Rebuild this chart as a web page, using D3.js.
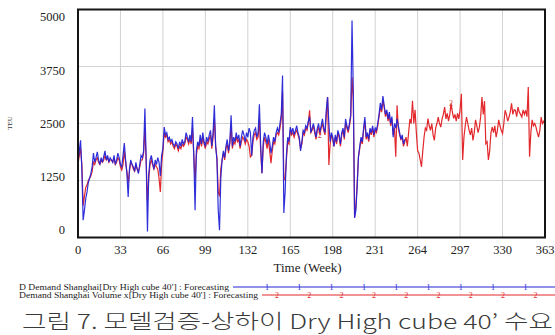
<!DOCTYPE html>
<html><head><meta charset="utf-8">
<script src="https://cdn.jsdelivr.net/npm/d3@7/dist/d3.min.js"></script>
<style>html,body{margin:0;padding:0;background:#fff;}svg{display:block;}</style>
</head><body>
<svg id="c" width="555" height="335"></svg>
<script>
// ---- data ----
const xTicks = [0, 33, 66, 99, 132, 165, 198, 231, 264, 297, 330, 363];
const yTicks = [0, 1250, 2500, 3750, 5000];
const xTitle = "Time (Week)";
const yTitle = "TEU";
const legendLabels = [
  "D Demand Shanghai[Dry High cube 40'] : Forecasting",
  "Demand Shanghai Volume x[Dry High cube 40'] : Forecasting"
];
const caption = "그림 7. 모델검증-상하이 Dry High cube 40’ 수요";

// blue: D Demand Shanghai (weeks 0..254)
const blueValues = [
1650,1900,2130,1500,380,600,850,1000,1200,1300,
1400,1550,1850,1650,1750,1880,1700,1600,1750,1650,
1780,1900,1700,1800,1650,1750,1700,1650,1800,1600,
1700,1850,1750,1600,1550,1800,2070,1700,1400,890,
1500,1700,1600,1550,1450,1650,1500,1400,1600,1800,
1750,1900,2830,1700,130,1400,1700,1800,1650,1500,
1700,1600,1750,1650,1350,1800,1950,2420,2250,2300,
2150,2200,2100,2150,2050,2000,2100,2050,1950,2100,
2000,2150,2050,2100,2300,2200,2100,2250,2100,2640,
1800,600,1900,2100,2000,2250,2050,2300,2100,2000,
2200,2100,2250,2350,2000,2300,2900,2000,1700,600,
160,1300,1700,1900,1750,2000,2150,1900,2100,2680,
2000,2200,2100,2300,2150,2250,2000,2200,2350,2250,
2100,2300,2200,2400,2300,1800,2200,2350,2400,2200,
2300,2920,2000,1410,2100,2300,2200,2050,2250,2100,
1850,2000,2200,2100,2300,2400,2300,2500,2700,3550,
540,1000,1800,2200,2100,2420,2300,2400,2250,2350,
2450,2300,2200,1900,2100,2350,2300,2450,2400,2550,
2650,2300,2400,2500,2350,2200,2400,2500,2300,2450,
2600,2400,2300,2800,3080,2500,2100,2300,2200,2000,
2250,2100,2350,2250,2050,2300,2400,2200,2600,2450,
2350,2500,2700,4760,3200,430,600,1100,1770,2000,
2200,2100,2400,2640,2200,2300,2150,2400,2300,2450,
2250,2400,2350,2500,2700,2950,2800,3100,2900,2700,
2800,2600,2750,2500,2650,2200,2500,2400,2600,2450,
2300,2150,2250,2050,2150
];
// red: Demand Shanghai Volume x (weeks 0..363)
const redValues = [
1600,1800,1950,1600,700,900,1100,1150,1250,1300,
1350,1450,1650,1600,1700,1750,1650,1600,1700,1650,
1700,1800,1700,1750,1650,1700,1700,1650,1750,1600,
1650,1750,1700,1550,1480,1600,1900,1650,1450,1200,
1450,1650,1600,1500,1450,1600,1500,1450,1550,1700,
1700,1850,2400,1650,800,1300,1600,1700,1600,1500,
1600,1550,1500,1300,1000,1600,1900,2300,2200,2250,
2100,2150,2050,2100,2000,1950,2050,2000,1900,2000,
1950,2050,2000,2050,2200,2150,2050,2150,2050,2400,
1800,1260,1800,2000,1950,2150,2000,2200,2050,1950,
2100,2050,2150,2250,1950,2200,2600,2000,1750,1000,
900,1500,1700,1850,1700,1950,2050,1850,2050,2450,
1950,2100,2050,2200,2100,2150,1950,2100,2200,2150,
2050,2150,2100,2000,1770,1800,2100,2250,2300,2150,
2200,2600,1900,1410,2000,2200,2100,1950,2150,1900,
1630,1900,2100,2050,2250,2300,2250,2400,2600,3200,
1260,1300,1700,2100,2050,2350,2250,2300,2200,2300,
2350,2250,2150,1950,2050,2300,2250,2400,2350,2500,
2790,2300,2350,2450,2300,2150,2350,2400,2250,2400,
2500,2350,2250,2700,3080,1590,2050,2250,2150,2000,
2200,2050,2300,2200,2000,2250,2350,2150,2500,2400,
2300,2450,2650,3520,3000,450,700,1200,1770,1950,
2150,2050,2350,2550,2150,2250,2100,2350,2250,2400,
2200,2350,2300,2450,2650,2850,2750,3000,2850,2650,
2750,2550,2700,2450,2600,2250,2400,1770,2900,2400,
2250,2150,2200,2000,2100,2200,2000,2300,2600,2500,
3000,2500,2800,2300,1900,1850,1700,1550,1900,2200,
2400,2350,2610,2450,2350,2500,2250,2130,2400,2500,
2640,2500,2420,2600,2700,2860,2600,2720,2550,2700,
2940,2750,2610,2700,2550,2720,2600,2800,3150,1700,
2200,2450,2640,2500,2350,2250,2400,2130,2300,2580,
2450,2300,2420,2650,3080,2700,2990,2060,2100,1700,
1900,2300,2420,2300,2450,2200,2350,2580,2450,2350,
2280,2500,2790,2700,2550,2640,2750,2940,2700,2800,
2790,2650,2860,2750,2700,2640,2800,2700,2790,2650,
3300,1770,2300,2580,2450,2500,2420,2300,2200,2350,
2640,2500,2550,2500
];
const redMarkerWeeks = [188, 290];

// ---- drawing ----
const svg = d3.select("#c");
svg.append("rect").attr("width",555).attr("height",335).attr("fill","#fff");
const L=78, R=545, T=9.5, B=237.5;
const x = d3.scaleLinear().domain([0,363]).range([L,R]);
const y = d3.scaleLinear().domain([0,5000]).range([B,T]);
const yLab = d3.scaleLinear().domain([0,5000]).range([230,17]);

const serif = "'Liberation Serif','Times New Roman',serif";

// grid
const g = svg.append("g");
g.selectAll("line.v").data(xTicks.slice(1,-1)).join("line")
  .attr("x1",d=>x(d)).attr("x2",d=>x(d)).attr("y1",T).attr("y2",B)
  .attr("stroke","#d2d2d2").attr("stroke-width",1);
g.selectAll("line.h").data(yTicks.slice(1,-1)).join("line")
  .attr("y1",d=>y(d)).attr("y2",d=>y(d)).attr("x1",L).attr("x2",R)
  .attr("stroke","#d2d2d2").attr("stroke-width",1);

// lines
const line = d3.line().x((d,i)=>x(i)).y(d=>y(d));
svg.append("path").datum(redValues).attr("d",line)
  .attr("fill","none").attr("stroke","#e2282c").attr("stroke-width",1.2);
svg.append("path").datum(blueValues).attr("d",line)
  .attr("fill","none").attr("stroke","#2424d8").attr("stroke-width",1.2).attr("opacity",0.95);

svg.selectAll("text.m2").data(redMarkerWeeks).join("text")
  .attr("x",d=>x(d)).attr("y",d=>y(redValues[d])+3)
  .attr("text-anchor","middle").attr("font-family",serif).attr("font-size",8)
  .attr("fill","#d83030").text("2");

// border
svg.append("rect").attr("x",L).attr("y",T).attr("width",R-L).attr("height",B-T)
  .attr("fill","none").attr("stroke","#151515").attr("stroke-width",2);

// axis labels
svg.selectAll("text.yt").data(yTicks).join("text")
  .attr("x",65).attr("y",d=>yLab(d)).attr("dy","0.35em")
  .attr("text-anchor","end").attr("font-family",serif).attr("font-size",12.5)
  .attr("fill","#222").text(d=>d);
svg.selectAll("text.xt").data(xTicks).join("text")
  .attr("x",d=>x(d)).attr("y",254)
  .attr("text-anchor","middle").attr("font-family",serif).attr("font-size",12.5)
  .attr("fill","#222").text(d=>d);
svg.append("text").attr("x",(L+R)/2-4).attr("y",272).attr("text-anchor","middle")
  .attr("font-family",serif).attr("font-size",13).attr("fill","#222").text(xTitle);
svg.append("text").attr("transform","translate(12,123) rotate(-90)")
  .attr("text-anchor","middle").attr("font-family",serif).attr("font-size",7)
  .attr("fill","#333").text(yTitle);

// legend
const legRows = [
  {label:legendLabels[0], y:287, color:"#2424d8", mark:"1", x0:233, textEnd:229, m0:267},
  {label:legendLabels[1], y:295, color:"#e2282c", mark:"2", x0:262, textEnd:258, m0:277}
];
legRows.forEach(r=>{
  svg.append("text").attr("x",19).attr("y",r.y+2.5)
    .attr("font-family",serif).attr("font-size",8).attr("fill","#222")
    .attr("textLength",r.textEnd-19).attr("lengthAdjust","spacingAndGlyphs").text(r.label);
  svg.append("line").attr("x1",r.x0).attr("x2",555).attr("y1",r.y).attr("y2",r.y)
    .attr("stroke",r.color).attr("stroke-width",1.2);
  const ms = d3.range(r.m0, 550, 32.3);
  svg.selectAll(null).data(ms).join("text")
    .attr("x",d=>d).attr("y",r.y+3).attr("text-anchor","middle")
    .attr("font-family",serif).attr("font-size",8).attr("fill",r.color).text(r.mark);
});

// caption
svg.append("text").attr("x",22).attr("y",329)
  .attr("font-family","'Noto Sans CJK KR','Noto Sans',sans-serif").attr("font-size",20)
  .attr("font-weight",300)
  .attr("fill","#3a3a3a").attr("textLength",531).attr("lengthAdjust","spacingAndGlyphs").text(caption);
</script>
</body></html>
